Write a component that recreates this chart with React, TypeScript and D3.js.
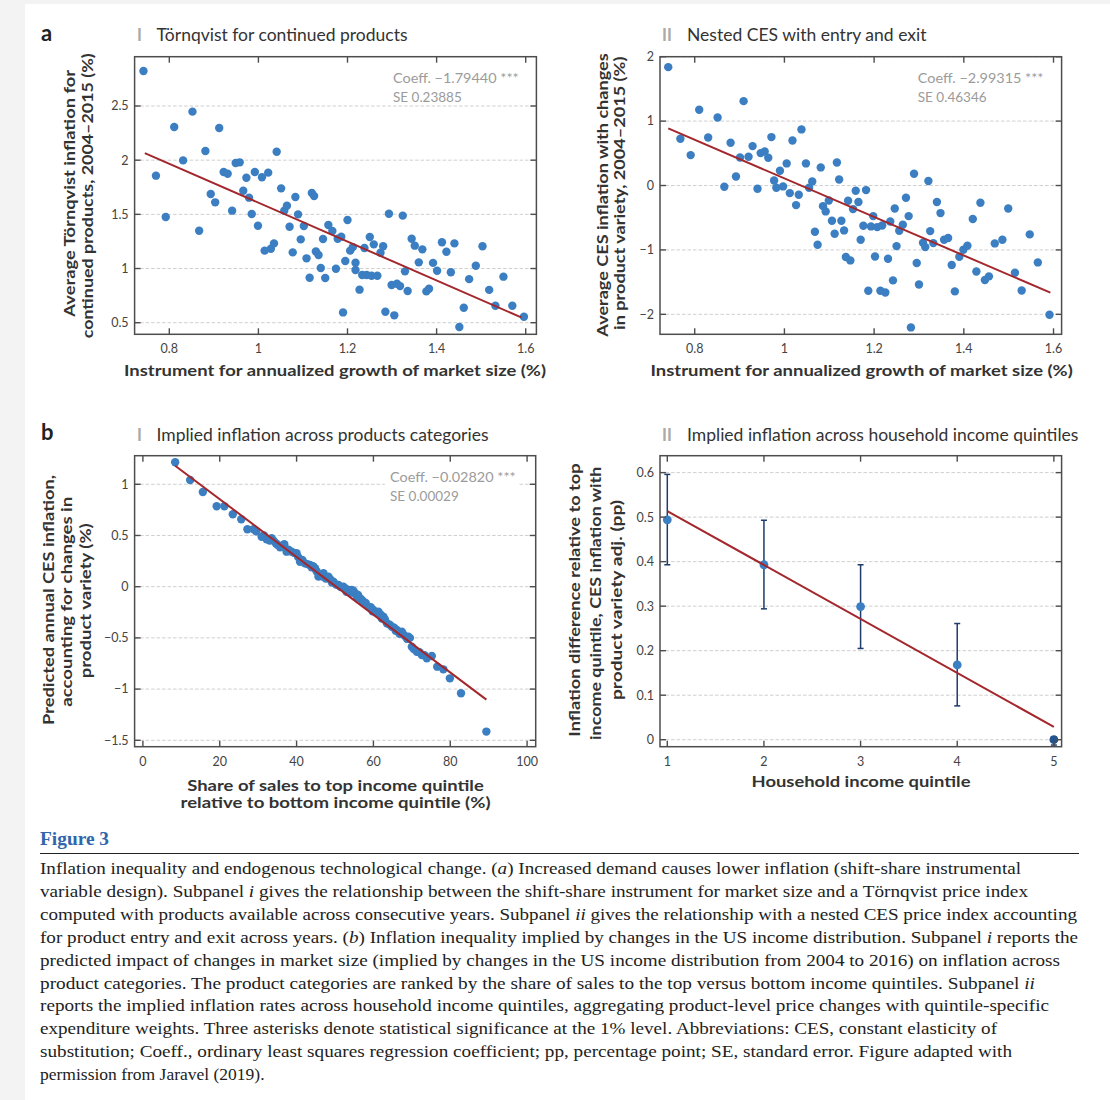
import * as d3 from "d3";

// ---- data ----

// a-i: Törnqvist inflation vs instrument for market size growth
const tornqvistPoints: [number, number][] = [
  [0.742, 2.823], [0.77, 1.857], [0.792, 1.475], [0.811, 2.306], [0.831, 1.998],
  [0.852, 2.448], [0.867, 1.349], [0.881, 2.085], [0.893, 1.688], [0.903, 1.611],
  [0.912, 2.297], [0.922, 1.891], [0.931, 1.875], [0.941, 1.534], [0.949, 1.974],
  [0.958, 1.98], [0.966, 1.718], [0.973, 1.838], [0.979, 1.654], [0.985, 1.503],
  [0.992, 1.891], [0.999, 1.395], [1.008, 1.842], [1.014, 1.165], [1.022, 1.885],
  [1.028, 1.183], [1.035, 1.232], [1.041, 2.078], [1.051, 1.74], [1.058, 1.534],
  [1.064, 1.58], [1.07, 1.386], [1.077, 1.149], [1.083, 1.66], [1.089, 1.5],
  [1.095, 1.269], [1.102, 1.392], [1.108, 1.094], [1.115, 0.915], [1.12, 1.697],
  [1.125, 1.669], [1.129, 1.158], [1.135, 1.125], [1.14, 1.005], [1.145, 1.272],
  [1.15, 0.912], [1.157, 1.402], [1.166, 1.346], [1.174, 0.998], [1.178, 1.275],
  [1.186, 1.294], [1.19, 0.595], [1.195, 1.069], [1.2, 1.448], [1.206, 1.165],
  [1.212, 1.198], [1.218, 1.054], [1.218, 0.986], [1.227, 0.805], [1.233, 0.94],
  [1.238, 1.189], [1.243, 0.94], [1.25, 1.291], [1.254, 0.934], [1.259, 1.223],
  [1.267, 0.934], [1.274, 1.146], [1.28, 1.205], [1.285, 0.601], [1.293, 1.506],
  [1.299, 0.848], [1.305, 0.568], [1.311, 0.86], [1.318, 0.838], [1.324, 1.488],
  [1.329, 0.974], [1.335, 0.792], [1.344, 1.275], [1.351, 1.211], [1.36, 1.057],
  [1.368, 1.177], [1.377, 0.789], [1.383, 0.814], [1.392, 1.052], [1.401, 0.98],
  [1.412, 1.242], [1.422, 1.155], [1.432, 0.965], [1.44, 1.232], [1.451, 0.46],
  [1.461, 0.638], [1.473, 0.902], [1.488, 1.026], [1.503, 1.205], [1.518, 0.803],
  [1.532, 0.657], [1.55, 0.925], [1.57, 0.657], [1.596, 0.555],
];

// a-ii: nested CES inflation vs the same instrument
const cesPoints: [number, number][] = [
  [0.741, 1.838], [0.768, 0.726], [0.791, 0.472], [0.81, 1.176], [0.83, 0.746],
  [0.851, 1.057], [0.866, -0.019], [0.88, 0.664], [0.892, 0.141], [0.901, 0.436],
  [0.909, 1.31], [0.92, 0.446], [0.929, 0.612], [0.94, -0.05], [0.947, 0.503],
  [0.956, 0.529], [0.964, 0.431], [0.971, 0.752], [0.977, 0.079], [0.982, -0.035],
  [0.99, 0.229], [0.997, -0.014], [1.005, 0.343], [1.012, -0.118], [1.018, 0.7],
  [1.026, -0.304], [1.032, -0.144], [1.038, 0.871], [1.048, 0.343], [1.055, -0.035],
  [1.062, 0.063], [1.068, -0.718], [1.074, -0.92], [1.081, 0.281], [1.086, -0.32],
  [1.092, -0.402], [1.099, -0.232], [1.106, -0.547], [1.112, -0.749], [1.117, 0.358],
  [1.122, 0.094], [1.127, -0.547], [1.133, -0.697], [1.137, -1.111], [1.142, -0.237],
  [1.147, -1.163], [1.153, -0.366], [1.159, -0.081], [1.165, -0.257], [1.17, -0.842],
  [1.176, -0.625], [1.182, -0.071], [1.187, -1.634], [1.193, -0.635], [1.198, -0.475],
  [1.202, -1.101], [1.207, -0.646], [1.214, -1.634], [1.218, -0.62], [1.225, -1.66],
  [1.231, -1.137], [1.236, -0.558], [1.242, -1.473], [1.246, -0.356], [1.25, -0.941],
  [1.256, -0.702], [1.264, -0.609], [1.271, -0.19], [1.277, -0.475], [1.282, -2.203],
  [1.289, 0.182], [1.295, -1.204], [1.3, -1.536], [1.309, -0.889], [1.314, -0.956],
  [1.321, 0.069], [1.325, -0.708], [1.332, -0.894], [1.34, -0.257], [1.348, -0.428],
  [1.356, -0.842], [1.365, -0.816], [1.373, -1.235], [1.38, -1.644], [1.39, -1.106],
  [1.399, -0.997], [1.408, -0.935], [1.42, -0.521], [1.428, -1.334], [1.437, -0.268],
  [1.447, -1.468], [1.456, -1.411], [1.469, -0.899], [1.486, -0.842], [1.499, -0.356],
  [1.514, -1.354], [1.529, -1.629], [1.547, -0.759], [1.565, -1.194], [1.591, -2.006],
];

// b-i: predicted inflation by product category vs share of sales to top quintile
const categoryPoints: [number, number][] = [
  [8.4, 1.215], [12.3, 1.042], [15.6, 0.925], [19.2, 0.785], [21.2, 0.785],
  [23.4, 0.707], [25.6, 0.658], [27.2, 0.561], [28.8, 0.561], [29.5, 0.54],
  [30.9, 0.488], [31.5, 0.5], [32.2, 0.463], [33.0, 0.45], [33.5, 0.473],
  [34.0, 0.45], [34.6, 0.424], [35.0, 0.41], [35.7, 0.385], [36.2, 0.4],
  [36.8, 0.414], [37.4, 0.342], [37.9, 0.36], [38.7, 0.342], [39.3, 0.33],
  [40.0, 0.326], [40.4, 0.29], [40.9, 0.244], [41.5, 0.26], [42.2, 0.228],
  [42.8, 0.22], [43.5, 0.212], [43.9, 0.19], [44.3, 0.2], [44.8, 0.18],
  [45.2, 0.15], [45.7, 0.098], [46.3, 0.12], [46.8, 0.1], [47.0, 0.131],
  [47.6, 0.08], [48.3, 0.098], [48.8, 0.07], [49.2, 0.04], [49.6, 0.049],
  [50.3, 0.02], [50.9, 0.017], [51.4, 0.0], [52.2, 0.0], [52.8, -0.02],
  [53.0, -0.05], [53.5, -0.032], [54.0, -0.06], [54.3, -0.032], [54.8, -0.04],
  [55.2, -0.064], [55.7, -0.1], [56.0, -0.08], [56.5, -0.113], [57.0, -0.13],
  [57.4, -0.146], [58.0, -0.16], [58.7, -0.195], [59.3, -0.2], [59.8, -0.24],
  [60.0, -0.228], [60.6, -0.25], [61.3, -0.244], [61.8, -0.27], [62.2, -0.31],
  [62.6, -0.293], [63.0, -0.32], [63.5, -0.357], [64.2, -0.37], [64.8, -0.391],
  [65.4, -0.4], [65.8, -0.43], [66.1, -0.423], [66.8, -0.46], [67.4, -0.439],
  [67.9, -0.47], [68.4, -0.49], [68.8, -0.51], [69.1, -0.488], [69.5, -0.5],
  [70.0, -0.586], [70.5, -0.61], [71.3, -0.635], [72.0, -0.64], [72.6, -0.667],
  [73.3, -0.67], [73.9, -0.699], [75.2, -0.677], [76.6, -0.781], [78.2, -0.807],
  [79.9, -0.895], [82.8, -1.04], [89.4, -1.415],
];

// b-ii: inflation gap relative to top quintile, with confidence bands
const quintiles = [1, 2, 3, 4, 5];
const quintileGap = [0.494, 0.393, 0.299, 0.168, 0.0];
const quintileLow = [0.393, 0.294, 0.205, 0.076, -0.012];
const quintileHigh = [0.596, 0.493, 0.393, 0.261, 0.006];

// OLS fits drawn in red
type Fit = { slope: number; intercept: number; from: number; to: number };
const tornqvistFit: Fit = { slope: -1.7944, intercept: 3.402, from: 0.745, to: 1.59 };
const cesFit: Fit = { slope: -2.99315, intercept: 3.104, from: 0.741, to: 1.593 };
const categoryFit: Fit = { slope: -0.0282, intercept: 1.418, from: 8.4, to: 89.4 };
const quintileFit: Fit = { slope: -0.12125, intercept: 0.635, from: 1, to: 5 };

// ticks
const marketTicks = [0.8, 1, 1.2, 1.4, 1.6];
const tornqvistTicks = [0.5, 1, 1.5, 2, 2.5];
const cesTicks = [-2, -1, 0, 1, 2];
const shareTicks = [0, 20, 40, 60, 80, 100];
const categoryTicks = [-1.5, -1, -0.5, 0, 0.5, 1];
const gapTicks = [0, 0.1, 0.2, 0.3, 0.4, 0.5, 0.6];

const captionLines: [string, boolean][][] = [
  [["Inflation inequality and endogenous technological change. (", false], ["a", true], [") Increased demand causes lower inflation (shift-share instrumental", false]],
  [["variable design). Subpanel ", false], ["i", true], [" gives the relationship between the shift-share instrument for market size and a Törnqvist price index", false]],
  [["computed with products available across consecutive years. Subpanel ", false], ["ii", true], [" gives the relationship with a nested CES price index accounting", false]],
  [["for product entry and exit across years. (", false], ["b", true], [") Inflation inequality implied by changes in the US income distribution. Subpanel ", false], ["i", true], [" reports the", false]],
  [["predicted impact of changes in market size (implied by changes in the US income distribution from 2004 to 2016) on inflation across", false]],
  [["product categories. The product categories are ranked by the share of sales to the top versus bottom income quintiles. Subpanel ", false], ["ii", true]],
  [["reports the implied inflation rates across household income quintiles, aggregating product-level price changes with quintile-specific", false]],
  [["expenditure weights. Three asterisks denote statistical significance at the 1% level. Abbreviations: CES, constant elasticity of", false]],
  [["substitution; Coeff., ordinary least squares regression coefficient; pp, percentage point; SE, standard error. Figure adapted with", false]],
  [["permission from Jaravel (2019).", false]],
];
const captionWidths = [981, 988, 1037, 1038, 1020, 995, 1009, 957, 972, 0];

// ---- styling ----
const sans = "Lato, 'Open Sans', sans-serif";
const dotBlue = "#3b7fc2";
const fitRed = "#a3272c";
const barNavy = "#1e3c6c";
const frameGray = "#4d4d4d";

const fmt = (v: number) => String(v).replace("-", "\u2212");

type Frame = { x0: number; x1: number; y0: number; y1: number };

type PanelProps = {
  frame: Frame;
  xDomain: [number, number];
  yDomain: [number, number];
  xTicks: number[];
  yTicks: number[];
  points?: [number, number][];
  bars?: boolean;
  fit: Fit;
  coeff?: { lines: [string, string]; x: number; mask?: boolean };
};

function Panel({ frame, xDomain, yDomain, xTicks, yTicks, points, bars, fit, coeff }: PanelProps) {
  const x = d3.scaleLinear().domain(xDomain).range([frame.x0, frame.x1]);
  const y = d3.scaleLinear().domain(yDomain).range([frame.y1, frame.y0]);
  const line = d3
    .line<number>()
    .x((d) => x(d))
    .y((d) => y(fit.intercept + fit.slope * d));
  const tick = 6;

  return (
    <g>
      {yTicks.map((t) => (
        <line key={`g${t}`} x1={frame.x0} x2={frame.x1} y1={y(t)} y2={y(t)}
          stroke="#c9c9c9" strokeWidth={0.9} strokeDasharray="3.5,2" />
      ))}

      {coeff && coeff.mask && (
        <rect x={coeff.x - 5} y={frame.y0 + 13} width={134} height={42} fill="#fff" />
      )}
      {coeff && (
        <g fontFamily={sans} fontSize={13.5} fill="#9b9b9b">
          <text x={coeff.x} y={frame.y0 + 26.5} textLength={125.7} lengthAdjust="spacingAndGlyphs">
            {coeff.lines[0]}
          </text>
          <text x={coeff.x} y={frame.y0 + 45.5}>{coeff.lines[1]}</text>
        </g>
      )}

      {bars &&
        quintiles.map((q, i) => (
          <g key={`e${q}`} stroke={barNavy} strokeWidth={1.5}>
            <line x1={x(q)} x2={x(q)} y1={y(quintileLow[i])} y2={y(quintileHigh[i])} />
            <line x1={x(q) - 3} x2={x(q) + 3} y1={y(quintileLow[i])} y2={y(quintileLow[i])} />
            <line x1={x(q) - 3} x2={x(q) + 3} y1={y(quintileHigh[i])} y2={y(quintileHigh[i])} />
          </g>
        ))}
      {bars &&
        quintiles.map((q, i) => (
          <circle key={`q${q}`} cx={x(q)} cy={y(quintileGap[i])} r={4.4}
            fill={i === 4 ? "#24548f" : dotBlue} />
        ))}

      {points?.map(([px, py], i) => (
        <circle key={i} cx={x(px)} cy={y(py)} r={4.2} fill={dotBlue} />
      ))}

      <path d={line([fit.from, fit.to]) ?? ""} fill="none" stroke={fitRed} strokeWidth={2} />

      <rect x={frame.x0} y={frame.y0} width={frame.x1 - frame.x0} height={frame.y1 - frame.y0}
        fill="none" stroke={frameGray} strokeWidth={1.5} />
      <g stroke={frameGray} strokeWidth={1.4}>
        {xTicks.map((t) => (
          <g key={`xt${t}`}>
            <line x1={x(t)} x2={x(t)} y1={frame.y1} y2={frame.y1 - tick} />
            <line x1={x(t)} x2={x(t)} y1={frame.y0} y2={frame.y0 + tick} />
          </g>
        ))}
        {yTicks.map((t) => (
          <g key={`yt${t}`}>
            <line x1={frame.x0} x2={frame.x0 + tick} y1={y(t)} y2={y(t)} />
            <line x1={frame.x1} x2={frame.x1 - tick} y1={y(t)} y2={y(t)} />
          </g>
        ))}
      </g>

      <g fontFamily={sans} fontSize={12.5} fill="#444">
        {xTicks.map((t) => (
          <text key={`xl${t}`} x={x(t)} y={frame.y1 + 19} textAnchor="middle">{fmt(t)}</text>
        ))}
        {yTicks.map((t) => (
          <text key={`yl${t}`} x={frame.x0 - 6} y={y(t)} dy="0.35em" textAnchor="end">{fmt(t)}</text>
        ))}
      </g>
    </g>
  );
}

function PanelTitle({ x, y, roman, text, width }: { x: number; y: number; roman: string; text: string; width: number }) {
  return (
    <g fontFamily={sans} fontSize={16.5}>
      <text x={x} y={y} fill="#aaaaaa" fontWeight={700}>{roman}</text>
      <text x={x + (roman === "I" ? 19.5 : 25)} y={y} fill="#333" textLength={width} lengthAdjust="spacingAndGlyphs">
        {text}
      </text>
    </g>
  );
}

function YLabel({ x, cy, lines, widths }: { x: number[]; cy: number[]; lines: string[]; widths: number[] }) {
  return (
    <g fontFamily={sans} fontSize={15.5} fontWeight={700} fill="#333">
      {lines.map((l, i) => (
        <text key={l} transform={`translate(${x[i]},${cy[i]}) rotate(-90)`} textAnchor="middle"
          textLength={widths[i]} lengthAdjust="spacingAndGlyphs">
          {l}
        </text>
      ))}
    </g>
  );
}

function XLabel({ cx, y, lines, widths }: { cx: number; y: number[]; lines: string[]; widths: number[] }) {
  return (
    <g fontFamily={sans} fontSize={15.5} fontWeight={700} fill="#333">
      {lines.map((l, i) => (
        <text key={l} x={cx} y={y[i]} textAnchor="middle" textLength={widths[i]} lengthAdjust="spacingAndGlyphs">
          {l}
        </text>
      ))}
    </g>
  );
}

export default function App() {
  const aLeft: Frame = { x0: 134.6, x1: 536.4, y0: 56.7, y1: 334.3 };
  const aRight: Frame = { x0: 660, x1: 1061.6, y0: 56.7, y1: 334.3 };
  const bLeft: Frame = { x0: 134.6, x1: 535.7, y0: 455.7, y1: 746.7 };
  const bRight: Frame = { x0: 660, x1: 1061.6, y0: 455.7, y1: 746.7 };

  return (
    <svg width={1110} height={1100} style={{ position: "absolute", left: 0, top: 0 }}>
      <rect width={1110} height={1100} fill="#f3f3f3" />
      <rect x={25} y={4} width={1085} height={1096} fill="#fff" />

      {/* panel a */}
      <text x={41} y={41} fontFamily={sans} fontSize={22} fontWeight={700} fill="#222">a</text>
      <PanelTitle x={137} y={40.7} roman="I" text="Törnqvist for continued products" width={251} />
      <Panel frame={aLeft} xDomain={[0.7221, 1.624]} yDomain={[0.393, 2.955]}
        xTicks={marketTicks} yTicks={tornqvistTicks} points={tornqvistPoints} fit={tornqvistFit}
        coeff={{ x: 393, lines: ["Coeff. \u22121.79440 ***", "SE 0.23885"] }} />
      <YLabel x={[75, 93]} cy={[193.3, 195.8]} widths={[246.7, 285]}
        lines={["Average Törnqvist inflation for", "continued products, 2004\u20132015 (%)"]} />
      <XLabel cx={335} y={[376]} widths={[422]} lines={["Instrument for annualized growth of market size (%)"]} />

      <PanelTitle x={662} y={40.7} roman="II" text="Nested CES with entry and exit" width={239.5} />
      <Panel frame={aRight} xDomain={[0.7226, 1.618]} yDomain={[-2.31, 2.0]}
        xTicks={marketTicks} yTicks={cesTicks} points={cesPoints} fit={cesFit}
        coeff={{ x: 917.8, lines: ["Coeff. \u22122.99315 ***", "SE 0.46346"] }} />
      <YLabel x={[607.5, 625]} cy={[195, 193.3]} widths={[283.3, 273.3]}
        lines={["Average CES inflation with changes", "in product variety, 2004\u20132015 (%)"]} />
      <XLabel cx={861.6} y={[376]} widths={[422.3]} lines={["Instrument for annualized growth of market size (%)"]} />

      {/* panel b */}
      <text x={41} y={440} fontFamily={sans} fontSize={22} fontWeight={700} fill="#222">b</text>
      <PanelTitle x={137} y={440.7} roman="I" text="Implied inflation across products categories" width={332} />
      <Panel frame={bLeft} xDomain={[-2.16, 102.24]} yDomain={[-1.5625, 1.279]}
        xTicks={shareTicks} yTicks={categoryTicks} points={categoryPoints} fit={categoryFit}
        coeff={{ x: 390, lines: ["Coeff. \u22120.02820 ***", "SE 0.00029"], mask: true }} />
      <YLabel x={[53.5, 72, 91]} cy={[600, 601.7, 600.8]} widths={[250, 210, 155]}
        lines={["Predicted annual CES inflation,", "accounting for changes in", "product variety (%)"]} />
      <XLabel cx={335.5} y={[790.7, 808.3]} widths={[296.5, 310]}
        lines={["Share of sales to top income quintile", "relative to bottom income quintile (%)"]} />

      <PanelTitle x={662} y={440.7} roman="II" text="Implied inflation across household income quintiles" width={391.4} />
      <Panel frame={bRight} xDomain={[0.9245, 5.08]} yDomain={[-0.0157, 0.638]}
        xTicks={quintiles} yTicks={gapTicks} bars fit={quintileFit} />
      <YLabel x={[579.5, 600.5, 621.5]} cy={[600, 603.3, 600]} widths={[273.3, 273.3, 200]}
        lines={["Inflation difference relative to top", "income quintile, CES inflation with", "product variety adj. (pp)"]} />
      <XLabel cx={861} y={[787]} widths={[219]} lines={["Household income quintile"]} />

      {/* caption */}
      <text x={40} y={845} fontFamily="'Liberation Serif', serif" fontSize={18} fontWeight={700} fill="#2f66ad"
        textLength={69} lengthAdjust="spacingAndGlyphs">Figure 3</text>
      <line x1={40} x2={1079} y1={853.5} y2={853.5} stroke="#222" strokeWidth={1.2} />
      <g fontFamily="'Liberation Serif', serif" fontSize={17.5} fill="#222">
        {captionLines.map((segs, i) => (
          <text key={i} x={40} y={874.3 + i * 22.85}
            {...(captionWidths[i] ? { textLength: captionWidths[i], lengthAdjust: "spacingAndGlyphs" } : {})}>
            {segs.map(([s, it], j) => (
              <tspan key={j} fontStyle={it ? "italic" : "normal"}>{s}</tspan>
            ))}
          </text>
        ))}
      </g>
    </svg>
  );
}
